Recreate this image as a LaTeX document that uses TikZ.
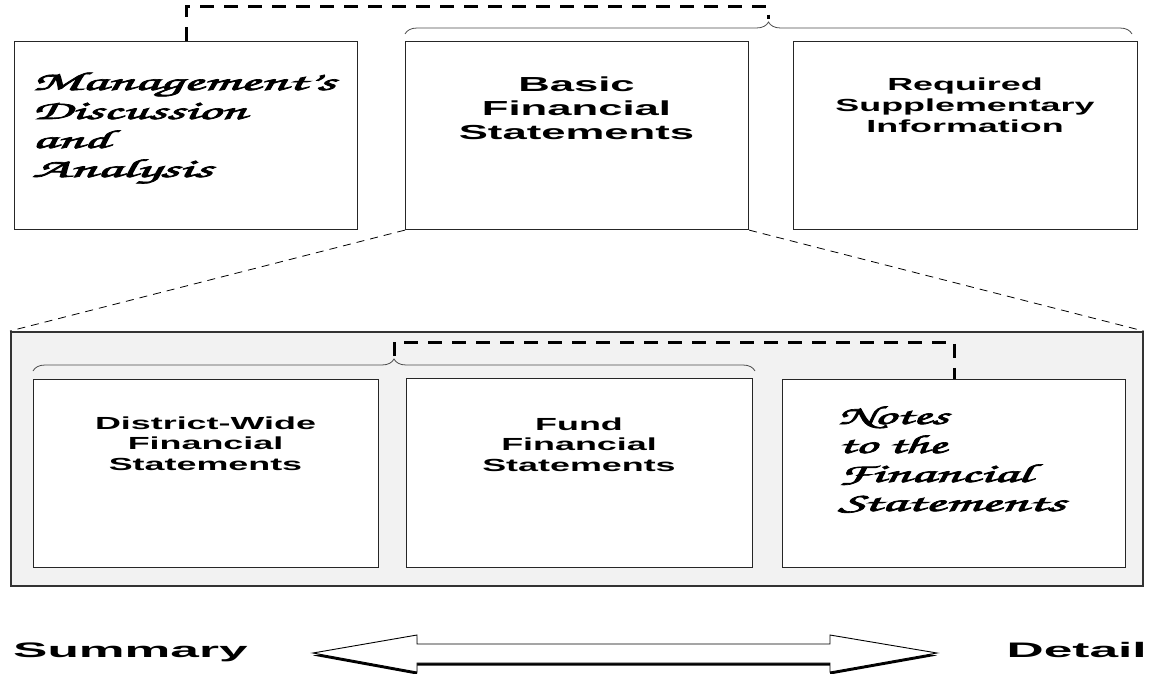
\documentclass[tikz,border=0pt]{standalone}
\usepackage{fontspec}
\usepackage{graphicx}
\usetikzlibrary{decorations.pathreplacing,shadows,calc}
\setmainfont{Liberation Sans}
\newfontfamily\bigsans{Liberation Sans}[FakeStretch=2.15]
\newfontfamily\smallsans{Liberation Sans}[FakeStretch=2.05]
\newfontfamily\endsans{Liberation Sans}[FakeStretch=2.45]
\newfontfamily\scriptf{texgyrechorus-mediumitalic.otf}[FakeBold=2.5]
\newsavebox\fitbox
\newcommand\fitw[2]{\sbox\fitbox{#2}\edef\fitscale{\fpeval{#1/(\the\wd\fitbox)}}\scalebox{\fitscale}[1]{\usebox\fitbox}}
\begin{document}
\begin{tikzpicture}[x=1pt,y=-1pt,
  box/.style={draw=black!85, line width=1.1pt, fill=white, inner sep=0pt, anchor=north west},
  bigdash/.style={line width=3pt, dash pattern=on 14pt off 10pt},
  thindash/.style={line width=0.8pt, dash pattern=on 8pt off 6pt},
  bracestyle/.style={decorate, decoration={brace, amplitude=12pt}, draw=black!70, line width=0.8pt},
  txt/.style={inner sep=0pt, anchor=base, align=center},
  scr/.style={inner sep=0pt, anchor=base west, align=left, font=\scriptf\fontsize{26}{29}\selectfont},
]
\useasboundingbox (0,0) rectangle (1149,674);
% top row
\node[box, minimum width=343pt, minimum height=188pt] (MDA) at (14,41) {};
\node[box, minimum width=343pt, minimum height=188pt] (BFS) at (405,41) {};
\node[box, minimum width=344pt, minimum height=188pt] (RSI) at (793,41) {};
% panel
\node[draw=black!80, line width=1.6pt, fill=black!5, anchor=north west, inner sep=0pt,
      minimum width=1132pt, minimum height=254pt] (PNL) at (10,331) {};
\node[box, minimum width=345pt, minimum height=188pt] (DW) at (33,379) {};
\node[box, minimum width=346pt, minimum height=189pt] (FUND) at (406,378) {};
\node[box, minimum width=343pt, minimum height=188pt] (NTS) at (782,379) {};
% texts (base anchor = baseline of last line)
\node[scr] (MDAt) at (32,177) {\fitw{303}{Management’s}\\\fitw{214}{Discussion}\\\fitw{77}{and}\\\fitw{180}{Analysis}};
\node[txt, font=\bigsans\bfseries\fontsize{20.3}{24}\selectfont] (BFSt) at (576.5,140) {Basic\\Financial\\Statements};
\node[txt, font=\smallsans\bfseries\fontsize{17.5}{21.5}\selectfont] (RSIt) at (965,133) {Required\\Supplementary\\Information};
\node[txt, font=\smallsans\bfseries\fontsize{17.5}{20.5}\selectfont] (DWt) at (205.5,470) {District-Wide\\Financial\\Statements};
\node[txt, font=\smallsans\bfseries\fontsize{17.5}{20.5}\selectfont] (FUNDt) at (579,471) {Fund\\Financial\\Statements};
\node[scr] (NTSt) at (838,511) {\fitw{110}{Notes}\\\fitw{108}{to the}\\\fitw{193}{Financial}\\\fitw{227}{Statements}};
% braces
\draw[bracestyle] (405,34) -- (1132,34);
\coordinate (tbt) at (768.5,19);
\draw[bracestyle] (33,371) -- (755,371);
\coordinate (ibt) at (394,356);
% dashed connectors
\draw[bigdash] (MDA.north) -- ++(0,-34) -| (tbt);
\draw[bigdash] (ibt) -- ++(0,-14) -| (NTS.north);
\draw[thindash] (BFS.south west) -- (PNL.north west);
\draw[thindash] (BFS.south east) -- (PNL.north east);
% bottom
\node[anchor=base west, inner sep=0pt, font=\endsans\bfseries\fontsize{21}{25}\selectfont] (SUM) at (13,657) {Summary};
\node[anchor=base east, inner sep=0pt, font=\endsans\bfseries\fontsize{21}{25}\selectfont] (DET) at (1147,657) {Detail};
\filldraw[fill=white, draw=black, line width=0.9pt,
  drop shadow={shadow xshift=0pt, shadow yshift=-2.5pt, fill=black, opacity=1}]
  (313,653) -- (417,635) -- (417,644) -- (830,644) -- (830,635) -- (937,653)
  -- (830,672) -- (830,663) -- (417,663) -- (417,672) -- cycle;
\end{tikzpicture}
\end{document}
